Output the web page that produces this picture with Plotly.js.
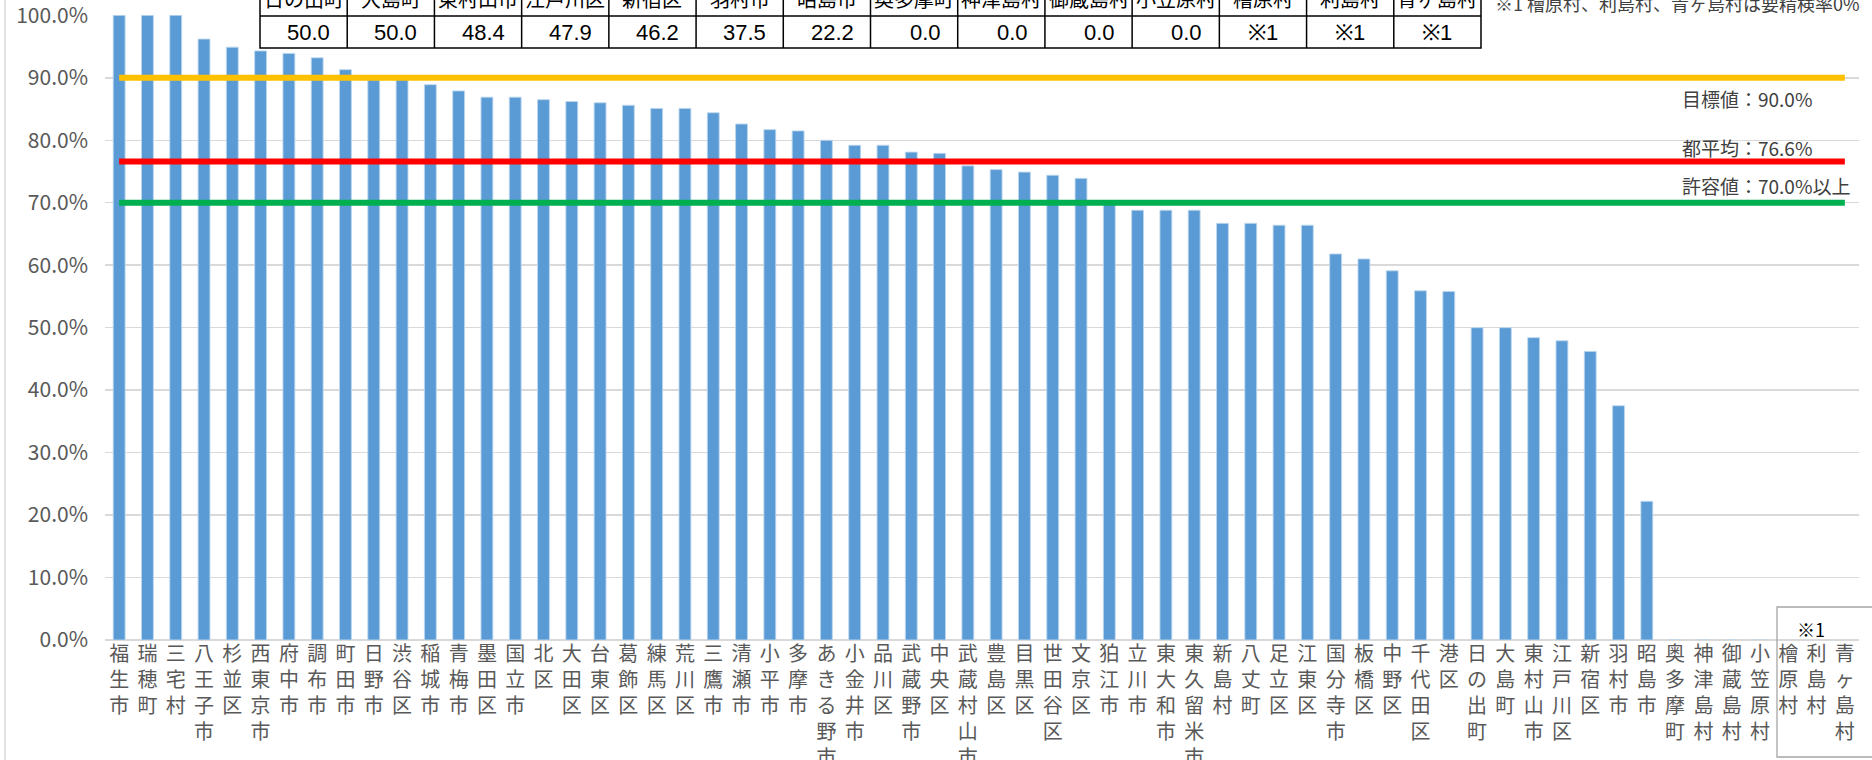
<!DOCTYPE html>
<html><head><meta charset="utf-8">
<script src="https://cdn.plot.ly/plotly-3.0.1.min.js"></script>
<style>html,body{margin:0;padding:0;background:#fff;overflow:hidden}#chart{width:1872px;height:760px}</style>
</head><body><div id="chart"></div>
<script>
// ---- data ----
const categories = ["福生市","瑞穂町","三宅村","八王子市","杉並区","西東京市","府中市","調布市","町田市","日野市","渋谷区","稲城市","青梅市","墨田区","国立市","北区","大田区","台東区","葛飾区","練馬区","荒川区","三鷹市","清瀬市","小平市","多摩市","あきる野市","小金井市","品川区","武蔵野市","中央区","武蔵村山市","豊島区","目黒区","世田谷区","文京区","狛江市","立川市","東大和市","東久留米市","新島村","八丈町","足立区","江東区","国分寺市","板橋区","中野区","千代田区","港区","日の出町","大島町","東村山市","江戸川区","新宿区","羽村市","昭島市","奥多摩町","神津島村","御蔵島村","小笠原村","檜原村","利島村","青ヶ島村"];
const rates = [100.0,100.0,100.0,96.2,94.9,94.3,93.9,93.2,91.3,89.7,89.7,88.9,87.9,86.9,86.9,86.5,86.2,86.0,85.6,85.1,85.1,84.4,82.6,81.7,81.5,80.0,79.2,79.2,78.1,77.9,75.9,75.3,74.9,74.4,73.9,69.8,68.8,68.8,68.8,66.7,66.7,66.4,66.4,61.8,61.0,59.1,55.9,55.8,50.0,50.0,48.4,47.9,46.2,37.5,22.2,0.0,0.0,0.0,0.0,null,null,null];
const targetValue = 90.0;
const averageValue = 76.6;
const allowValue = 70.0;
const tableHeads = ["日の出町","大島町","東村山市","江戸川区","新宿区","羽村市","昭島市","奥多摩町","神津島村","御蔵島村","小笠原村","檜原村","利島村","青ヶ島村"];
const tableValues = ["50.0","50.0","48.4","47.9","46.2","37.5","22.2","0.0","0.0","0.0","0.0","※1","※1","※1"];
const yTickVals = [0,0.1,0.2,0.3,0.4,0.5,0.6,0.7,0.8,0.9,1.0];
const noteText = "※1 檜原村、利島村、青ヶ島村は要精検率0%";
const lineLabels = ["目標値：90.0%","都平均：76.6%","許容値：70.0%以上"];
const boxLabel = "※1";

// ---- layout geometry (pixels) ----
const WIDTH = 1872, HEIGHT = 760;
const M = {l:105, r:13, t:15, b:120};
const PW = WIDTH - M.l - M.r, PH = HEIGHT - M.t - M.b;
const px = v => (v - M.l) / PW;
const py = v => (M.t + PH - v) / PH;

const FONT = '"Noto Sans CJK JP", "Noto Sans", sans-serif';
const TFONT = '"Liberation Sans", Arial, sans-serif';

const bars = {
  type:'bar', x: categories, y: rates.map(v => v === null ? null : v/100),
  marker:{color:'#5B9BD5', line:{color:'rgba(189,215,238,0.9)', width:1}},
  hoverinfo:'x+y', showlegend:false
};

const shapes = [];
const annotations = [];

// reference lines drawn through the axis scales
const refLines = [[targetValue,'#FFC000'],[averageValue,'#FF0000'],[allowValue,'#00B050']];
refLines.forEach(([v,c]) => shapes.push({type:'line', xref:'x', yref:'y',
  x0:categories[0], x1:categories[categories.length-1], y0:v/100, y1:v/100,
  line:{color:c, width:6}, layer:'above'}));

// right labels
const labelY = [99,147,185];
lineLabels.forEach((t,i)=>annotations.push({xref:'paper', yref:'paper', x:px(1680), y:py(labelY[i]),
  xanchor:'left', yanchor:'middle', text:t, showarrow:false, font:{family:FONT, size:19, color:'#404040'}}));

// table
const TX0 = 260, TX1 = 1481, TY0 = -40, TYM = 16, TY1 = 48;
const colW = (TX1 - TX0) / tableHeads.length;
shapes.push({type:'rect', xref:'paper', yref:'paper', x0:px(TX0), x1:px(TX1), y0:py(TY0), y1:py(TY1),
  fillcolor:'#ffffff', line:{color:'#000000', width:1.5}, layer:'above'});
shapes.push({type:'line', xref:'paper', yref:'paper', x0:px(TX0), x1:px(TX1), y0:py(TYM), y1:py(TYM),
  line:{color:'#000000', width:1.5}, layer:'above'});
for (let i=1;i<tableHeads.length;i++){
  shapes.push({type:'line', xref:'paper', yref:'paper', x0:px(TX0+i*colW), x1:px(TX0+i*colW), y0:py(TY0), y1:py(TY1),
    line:{color:'#000000', width:1.5}, layer:'above'});
}
tableHeads.forEach((h,i)=>{
  annotations.push({xref:'paper', yref:'paper', x:px(TX0+(i+0.5)*colW), y:py(-1), xanchor:'center', yanchor:'middle',
    text:h, showarrow:false, font:{family:FONT, size:20, color:'#000000'}});
  const v = tableValues[i];
  const isNum = !v.startsWith('※');
  annotations.push({xref:'paper', yref:'paper', x: isNum ? px(TX0+(i+1)*colW-15) : px(TX0+(i+0.5)*colW),
    y:py(32), xanchor: isNum ? 'right' : 'center', yanchor:'middle',
    text:v, showarrow:false, font:{family:TFONT, size:22, color:'#000000'}});
});

// note at top right, with white background box covering gridline
shapes.push({type:'rect', xref:'paper', yref:'paper', x0:px(TX1+1), x1:px(1657), y0:py(-10), y1:py(20),
  fillcolor:'#ffffff', line:{width:0}, layer:'above'});
annotations.push({xref:'paper', yref:'paper', x:px(1493), y:py(3), xanchor:'left', yanchor:'middle',
  text:noteText, showarrow:false, font:{family:FONT, size:18, color:'#404040'}});

// ※1 box at bottom right
shapes.push({type:'rect', xref:'paper', yref:'paper', x0:px(1777), x1:px(1900), y0:py(607), y1:py(757),
  fillcolor:'rgba(0,0,0,0)', line:{color:'#A6A6A6', width:1.3}, layer:'above'});
annotations.push({xref:'paper', yref:'paper', x:px(1811), y:py(629), xanchor:'center', yanchor:'middle',
  text:boxLabel, showarrow:false, font:{family:FONT, size:18, color:'#000000'}});

// left chart frame line
shapes.push({type:'line', xref:'paper', yref:'paper', x0:px(5), x1:px(5), y0:py(-5), y1:py(770),
  line:{color:'#D9D9D9', width:1.5}, layer:'below'});

const layout = {
  width: WIDTH, height: HEIGHT,
  margin: M,
  paper_bgcolor:'#ffffff', plot_bgcolor:'#ffffff',
  bargap: 0.58,
  showlegend:false,
  xaxis:{type:'category', tickmode:'array', tickvals:categories,
    ticktext:categories.map(c => Array.from(c).join('<br>')),
    tickangle:0, ticks:'', showgrid:false, zeroline:false, showline:false,
    tickfont:{family:FONT, size:20, color:'#595959'}, automargin:false, fixedrange:true},
  yaxis:{range:[0,1.0005], tickmode:'array', tickvals:yTickVals, tickformat:'.1%', ticks:'', showline:false,
    gridcolor:'#D9D9D9', gridwidth:1.5, zeroline:true, zerolinecolor:'#D9D9D9', zerolinewidth:1.5,
    ticklabeloverflow:'allow',
    tickfont:{family:FONT, size:21, color:'#595959'}, ticklabelstandoff:16, automargin:false, fixedrange:true},
  shapes, annotations
};

Plotly.newPlot('chart', [bars], layout, {staticPlot:true, displayModeBar:false});
</script></body></html>
